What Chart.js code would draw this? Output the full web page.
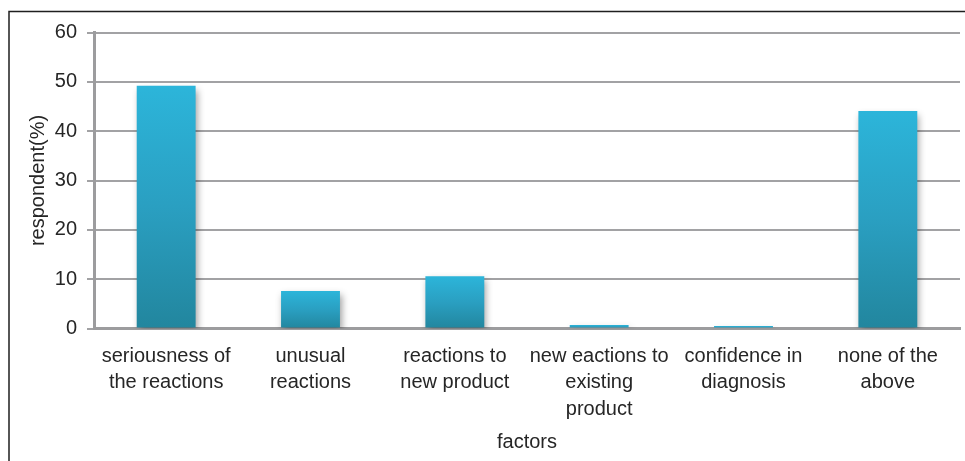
<!DOCTYPE html>
<html>
<head>
<meta charset="utf-8">
<title>respondent(%) by factor</title>
<script src="https://cdn.jsdelivr.net/npm/chart.js@4.4.0/dist/chart.umd.min.js"></script>
<style>
  html, body { margin: 0; padding: 0; background: #ffffff; }
  #wrap { position: relative; width: 965px; height: 461px; }
</style>
</head>
<body>
<div id="wrap"><canvas id="chart" width="965" height="461"></canvas></div>
<script>
// Factors (multi-line category labels)
const categories = [
  ['seriousness of', 'the reactions'],
  ['unusual', 'reactions'],
  ['reactions to', 'new product'],
  ['new eactions to', 'existing', 'product'],
  ['confidence in', 'diagnosis'],
  ['none of the', 'above']
];
// Share of respondents, percent
const respondentPct = [49.2, 7.6, 10.6, 0.7, 0.5, 44.1];
// Y axis range and step
const yTicks = { min: 0, max: 60, step: 10 };

const FONT = "'Liberation Sans', Arial, sans-serif";
const TEXT = '#262626';
const GRID = '#a2a2a4';

// Vertical gradient from the top of each bar down to its base
function barGradient(ctx) {
  const chart = ctx.chart;
  const area = chart.chartArea;
  if (!area || ctx.type !== 'data') return '#2aa0c2';
  const y = chart.scales.y;
  const top = y.getPixelForValue(ctx.raw);
  const base = y.getPixelForValue(0);
  if (!(base - top > 0.5)) return '#2cb4d9';
  const g = chart.ctx.createLinearGradient(0, top, 0, base);
  g.addColorStop(0, '#2cb5da');
  g.addColorStop(0.5, '#2a9fc1');
  g.addColorStop(1, '#22869e');
  return g;
}

// Soft drop shadow under the bars
const barShadow = {
  id: 'barShadow',
  beforeDatasetsDraw(chart) {
    const c = chart.ctx;
    c.save();
    c.shadowColor = 'rgba(0,0,0,0.38)';
    c.shadowBlur = 7;
    c.shadowOffsetX = 2;
    c.shadowOffsetY = 4;
  },
  afterDatasetsDraw(chart) {
    chart.ctx.restore();
  }
};

// Thin frame along the left and top edges
const frame = {
  id: 'frame',
  afterDraw(chart) {
    const c = chart.ctx;
    c.save();
    c.strokeStyle = '#1f1f1f';
    c.lineWidth = 1.5;
    c.beginPath();
    c.moveTo(9, chart.height);
    c.lineTo(9, 11.5);
    c.lineTo(chart.width, 11.5);
    c.stroke();
    c.restore();
  }
};

new Chart(document.getElementById('chart'), {
  type: 'bar',
  data: {
    labels: categories,
    datasets: [{
      label: 'respondent(%)',
      data: respondentPct,
      backgroundColor: barGradient,
      borderWidth: 0,
      categoryPercentage: 1,
      barPercentage: 0.408
    }]
  },
  options: {
    responsive: false,
    animation: false,
    devicePixelRatio: 1,
    layout: { padding: { left: 22, right: 5, top: 32.5, bottom: 0 } },
    plugins: {
      legend: { display: false },
      tooltip: { enabled: false }
    },
    scales: {
      x: {
        grid: { display: false, drawTicks: false },
        border: { display: true, color: '#9c9c9e', width: 3 },
        ticks: {
          color: TEXT,
          padding: 15,
          maxRotation: 0,
          autoSkip: false,
          font: { family: FONT, size: 20, lineHeight: 1.315 }
        },
        title: {
          display: true,
          text: 'factors',
          color: TEXT,
          padding: { top: 0, bottom: 7 },
          font: { family: FONT, size: 20 }
        },
        afterFit(scale) { scale.height = 132.5; }
      },
      y: {
        min: yTicks.min,
        max: yTicks.max,
        grid: { color: GRID, lineWidth: 2, tickLength: 7, drawTicks: true },
        border: { display: true, color: '#9c9c9e', width: 3 },
        ticks: {
          stepSize: yTicks.step,
          color: TEXT,
          padding: 10,
          font: { family: FONT, size: 20 }
        },
        title: {
          display: true,
          text: 'respondent(%)',
          color: TEXT,
          padding: { top: 4, bottom: 0 },
          font: { family: FONT, size: 20 }
        },
        afterFit(scale) { scale.width = 72; }
      }
    }
  },
  plugins: [barShadow, frame]
});
</script>
</body>
</html>
